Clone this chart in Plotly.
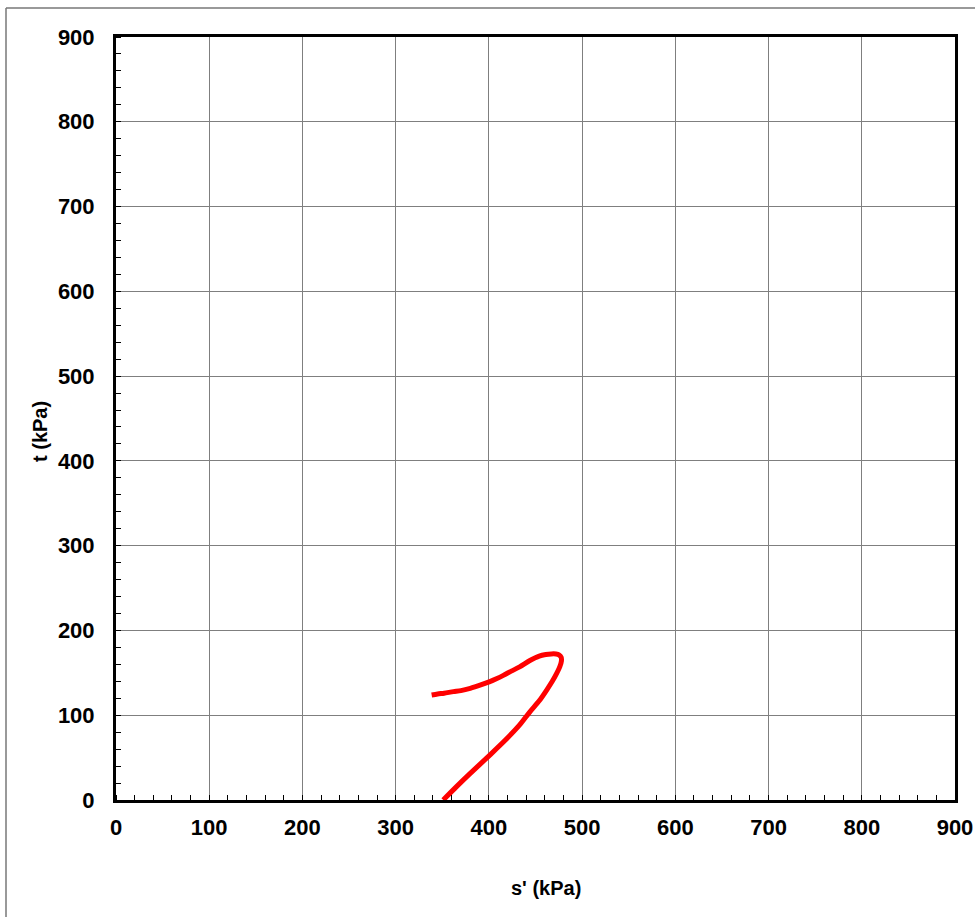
import plotly.graph_objects as go

# Stress path (kPa)
s_vals = [351, 365, 380, 401, 418, 433, 444, 454, 462, 468, 472.7, 476, 477.8, 477.5, 475.5, 472, 467, 461, 454, 444, 433, 424, 415.5, 408, 401, 392, 380, 370, 362, 352, 345, 338.6]
t_vals = [0, 15.5, 31.4, 53, 71, 88.5, 104, 117, 129.7, 140, 149.4, 157, 164, 168.5, 171, 172.2, 172.3, 171.6, 169.8, 164.5, 157, 152, 147, 143, 139.6, 136, 131.7, 129, 127.8, 126, 125, 123.8]

x_ticks = [0, 100, 200, 300, 400, 500, 600, 700, 800, 900]
y_ticks = [0, 100, 200, 300, 400, 500, 600, 700, 800, 900]

FONT = "Liberation Sans, Arial, sans-serif"

fig = go.Figure()
fig.add_trace(go.Scatter(x=s_vals, y=t_vals, mode="lines",
                         line=dict(color="#ff0000", width=5, shape="spline", smoothing=0.8),
                         showlegend=False, hoverinfo="skip"))

axis_common = dict(
    range=[0, 900], showline=True, linewidth=3, linecolor="black", mirror=True,
    showgrid=True, gridcolor="#7f7f7f", gridwidth=1, zeroline=False, automargin=False,
    ticks="", tickfont=dict(family=FONT, size=22, color="black", weight="bold"),
    ticklabeloverflow="allow",
    minor=dict(dtick=20, ticks="inside", ticklen=5, tickcolor="black", tickwidth=1, showgrid=False),
)

fig.update_xaxes(**axis_common, tickvals=x_ticks, ticktext=[str(v) for v in x_ticks], ticklabelstandoff=6)
fig.update_yaxes(**axis_common, tickvals=y_ticks, ticktext=[str(v) for v in y_ticks], ticklabelstandoff=14)

L, R, T, B = 116, 955, 37, 800
pw = R - L
ph = B - T
def px2x(px):
    return (px - L) / pw
def py2y(py):
    return (B - py) / ph

fig.update_layout(
    width=975, height=917,
    margin=dict(l=L, r=975 - R, t=T, b=917 - B, autoexpand=False),
    paper_bgcolor="white", plot_bgcolor="white",
    annotations=[
        dict(text="<b>s' (kPa)</b>", x=px2x(546), y=py2y(888), xref="paper", yref="paper",
             showarrow=False, font=dict(family=FONT, size=20, color="black"),
             xanchor="center", yanchor="middle"),
        dict(text="<b>t (kPa)</b>", x=px2x(40), y=py2y(432), xref="paper", yref="paper",
             showarrow=False, textangle=-90, font=dict(family=FONT, size=20, color="black"),
             xanchor="center", yanchor="middle"),
    ],
    shapes=[
        dict(type="line", xref="paper", yref="paper", x0=px2x(6), x1=px2x(6), y0=py2y(8), y1=py2y(930),
             line=dict(color="#777777", width=1.5)),
        dict(type="line", xref="paper", yref="paper", x0=px2x(6), x1=px2x(990), y0=py2y(8), y1=py2y(8),
             line=dict(color="#777777", width=1.5)),
    ],
)

fig.write_html("out.html")
